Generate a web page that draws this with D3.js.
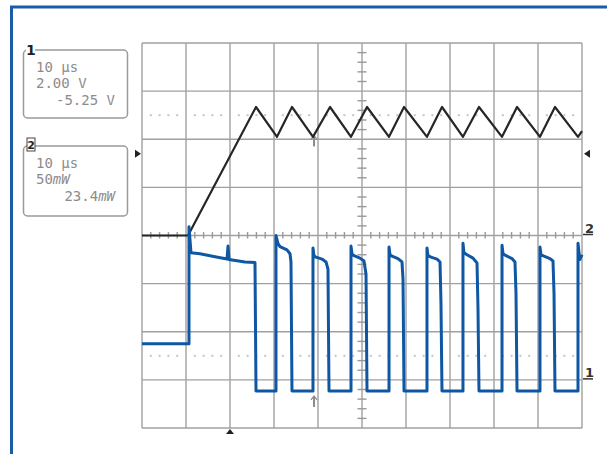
<!DOCTYPE html>
<html>
<head>
<meta charset="utf-8">
<script src="https://cdn.jsdelivr.net/npm/d3@7"></script>
<style>
  body { margin: 0; background: #fff; }
  svg { display: block; }
</style>
</head>
<body>
<div id="chart"></div>
<script>
// time in µs (10 µs/div), amplitude in screen divisions (center = 0)
const ch1Trace = [
  [0, 0], [10.45, 0], [10.91, 0.08], [25.91, 2.67],
  [30.68, 2.05], [34.09, 2.67], [38.86, 2.05], [42.73, 2.67], [47.5, 2.05], [51.14, 2.67],
  [56.14, 2.05], [59.55, 2.67], [64.77, 2.05], [68.18, 2.67], [72.95, 2.05], [76.59, 2.67],
  [81.82, 2.05], [85.23, 2.67], [90.45, 2.05], [93.86, 2.67], [99.09, 2.05], [100, 2.17]
];

const ch2Trace = [
  [0, -2.25], [10.68, -2.25], [10.68, 0.18], [11.14, -0.36], [13.18, -0.38], [16.59, -0.44],
  [19.32, -0.49], [19.55, -0.22], [19.77, -0.5], [23.41, -0.55], [25.68, -0.56], [25.91, -3.23],
  [30.45, -3.23], [30.45, 0], [30.91, -0.17], [31.36, -0.23], [32.95, -0.3], [33.64, -0.38], [33.86, -0.55], [34.09, -3.23],
  [38.86, -3.23], [38.86, -0.26], [39.09, -0.42], [39.55, -0.45], [40.91, -0.49], [41.82, -0.55], [42.27, -0.7], [42.5, -3.23],
  [47.5, -3.23], [47.5, -0.22], [47.73, -0.38], [48.18, -0.42], [49.55, -0.47], [50.45, -0.53], [50.91, -0.8], [51.14, -3.23],
  [56.14, -3.23], [56.14, -0.24], [56.36, -0.4], [56.82, -0.43], [58.18, -0.48], [59.09, -0.55], [59.32, -0.9], [59.55, -3.23],
  [64.77, -3.23], [64.77, -0.26], [65, -0.42], [65.68, -0.45], [67.05, -0.49], [67.73, -0.55], [67.95, -1.4], [68.18, -3.23],
  [72.95, -3.23], [72.95, -0.16], [73.18, -0.36], [73.86, -0.4], [75.23, -0.47], [76.14, -0.57], [76.36, -1.5], [76.59, -3.23],
  [81.82, -3.23], [81.82, -0.2], [82.05, -0.38], [82.73, -0.42], [84.09, -0.48], [84.77, -0.55], [85, -1.2], [85.23, -3.23],
  [90.45, -3.23], [90.45, -0.24], [90.68, -0.4], [91.36, -0.43], [92.73, -0.48], [93.41, -0.53], [93.64, -1.2], [93.86, -3.23],
  [99.09, -3.23], [99.09, -0.16], [99.5, -0.5], [100, -0.4]
];

const ch1Readout = ["10 µs", "2.00 V", "-5.25 V"];
const ch2Readout = ["10 µs", "50", "23.4"];
const refLevels = [2.5, -2.5];      // dotted reference lines
const sideMarker = 1.7;             // level of the side triangles
const trigTime = 20;                // bottom trigger triangle
const cursorTime = 39.1;            // small up-arrows

const W = 607, H = 454;
const plot = { left: 142, right: 582, top: 43, bottom: 428 };

const svg = d3.select('#chart').append('svg')
  .attr('width', W).attr('height', H);

const x = d3.scaleLinear().domain([0, 100]).range([plot.left, plot.right]);
const y = d3.scaleLinear().domain([-4, 4]).range([plot.bottom, plot.top]);

// frame
svg.append('path')
  .attr('d', `M11.5,${H} L11.5,7 L${W},7`)
  .style('fill', 'none')
  .style('stroke', '#1b5ca7')
  .style('stroke-width', 3);

// grid
const grid = svg.append('g');
grid.selectAll('.vline')
  .data(d3.range(0, 101, 10))
  .join('line')
  .attr('x1', d => x(d)).attr('x2', d => x(d))
  .attr('y1', plot.top).attr('y2', plot.bottom)
  .style('stroke', '#a0a0a0').style('stroke-width', 1.4);
grid.selectAll('.hline')
  .data(d3.range(-4, 4.01, 1))
  .join('line')
  .attr('y1', d => y(d)).attr('y2', d => y(d))
  .attr('x1', plot.left).attr('x2', plot.right)
  .style('stroke', '#a0a0a0').style('stroke-width', 1.4);

const minorX = d3.range(0, 100.01, 2).filter(d => d % 10 !== 0);
const minorY = d3.range(-4, 4.01, 0.2).filter(d => Math.abs(d - Math.round(d)) > 0.01);

// dotted reference lines
refLevels.forEach(lv => {
  grid.selectAll(null)
    .data(minorX)
    .join('rect')
    .attr('x', d => x(d) - 1).attr('y', y(lv) - 1)
    .attr('width', 2).attr('height', 2)
    .style('fill', '#c4c4c4');
});

// center axis ticks
grid.selectAll('.tx')
  .data(minorX)
  .join('line')
  .attr('x1', d => x(d)).attr('x2', d => x(d))
  .attr('y1', y(0) - 3.5).attr('y2', y(0) + 3)
  .style('stroke', '#999').style('stroke-width', 1.4);
grid.selectAll('.ty')
  .data(minorY)
  .join('line')
  .attr('y1', d => y(d)).attr('y2', d => y(d))
  .attr('x1', x(50) - 4.5).attr('x2', x(50) + 4.5)
  .style('stroke', '#999').style('stroke-width', 1.4);

// cursor arrows
[y(2.1) + 12, y(-3.23) + 16].forEach(yy => {
  const cx = x(cursorTime);
  svg.append('line')
    .attr('x1', cx).attr('x2', cx).attr('y1', yy - 10).attr('y2', yy)
    .style('stroke', '#8a8a8a').style('stroke-width', 2);
  svg.append('path')
    .attr('d', `M${cx - 3},${yy - 7} L${cx},${yy - 11} L${cx + 3},${yy - 7}`)
    .style('fill', 'none').style('stroke', '#8a8a8a').style('stroke-width', 1.2);
});

// traces
const line = d3.line().x(d => x(d[0])).y(d => y(d[1]));
svg.append('path')
  .datum(ch1Trace)
  .attr('d', line)
  .style('fill', 'none')
  .style('stroke', '#262626')
  .style('stroke-width', 2.2)
  .style('stroke-linejoin', 'round');
svg.append('path')
  .datum(ch2Trace)
  .attr('d', line)
  .style('fill', 'none')
  .style('stroke', '#0f57a3')
  .style('stroke-width', 3)
  .style('stroke-linejoin', 'round');

// markers
const mk = '#222';
svg.append('path')
  .attr('d', `M${plot.left - 7},${y(sideMarker) - 4} L${plot.left - 1},${y(sideMarker)} L${plot.left - 7},${y(sideMarker) + 4} Z`)
  .style('fill', mk);
svg.append('path')
  .attr('d', `M${plot.right + 8},${y(sideMarker) - 4} L${plot.right + 2},${y(sideMarker)} L${plot.right + 8},${y(sideMarker) + 4} Z`)
  .style('fill', mk);
svg.append('path')
  .attr('d', `M${x(trigTime) - 4},${plot.bottom + 6} L${x(trigTime)},${plot.bottom + 1} L${x(trigTime) + 4},${plot.bottom + 6} Z`)
  .style('fill', mk);

[['2', 0], ['1', -3]].forEach(([lab, lv]) => {
  svg.append('text')
    .attr('x', plot.right + 3).attr('y', y(lv) - 3)
    .style('font-family', 'DejaVu Sans, sans-serif')
    .style('font-size', '13px').style('font-weight', 'bold')
    .style('fill', '#333')
    .text(lab);
  svg.append('line')
    .attr('x1', plot.right + 1).attr('x2', plot.right + 11)
    .attr('y1', y(lv) - 1).attr('y2', y(lv) - 1)
    .style('stroke', '#333').style('stroke-width', 1.5);
});

// readout boxes
function readoutBox(top, bottom, lines, unitItalic) {
  const g = svg.append('g');
  g.append('rect')
    .attr('x', 23.5).attr('y', top).attr('width', 104).attr('height', bottom - top)
    .attr('rx', 4)
    .style('fill', '#fff').style('stroke', '#9a9a9a').style('stroke-width', 1.5);
  const font = 'DejaVu Sans Mono, monospace';
  const ys = [top + 22, top + 38, top + 55];
  lines.forEach((t, i) => {
    const txt = g.append('text')
      .attr('x', i === 2 ? 115 : 36)
      .attr('y', ys[i])
      .attr('text-anchor', i === 2 ? 'end' : 'start')
      .style('font-family', font)
      .style('font-size', '14px')
      .style('fill', '#8c8c8c')
      .text(t);
    if (unitItalic && i > 0) {
      txt.append('tspan').style('font-style', 'italic').text('mW');
    }
  });
  return g;
}

readoutBox(50, 118, ch1Readout, false);
svg.append('rect').attr('x', 26).attr('y', 41).attr('width', 9).attr('height', 14).style('fill', '#fff');
svg.append('text')
  .attr('x', 26).attr('y', 55)
  .style('font-family', 'DejaVu Sans, sans-serif')
  .style('font-size', '14px').style('font-weight', 'bold')
  .style('fill', '#222')
  .text('1');

readoutBox(146, 216, ch2Readout, true);
svg.append('rect')
  .attr('x', 27).attr('y', 138).attr('width', 8).attr('height', 13)
  .style('fill', '#fff').style('stroke', '#444').style('stroke-width', 1);
svg.append('text')
  .attr('x', 31).attr('y', 149)
  .attr('text-anchor', 'middle')
  .style('font-family', 'DejaVu Sans, sans-serif')
  .style('font-size', '11px').style('font-weight', 'bold')
  .style('fill', '#222')
  .text('2');
</script>
</body>
</html>
